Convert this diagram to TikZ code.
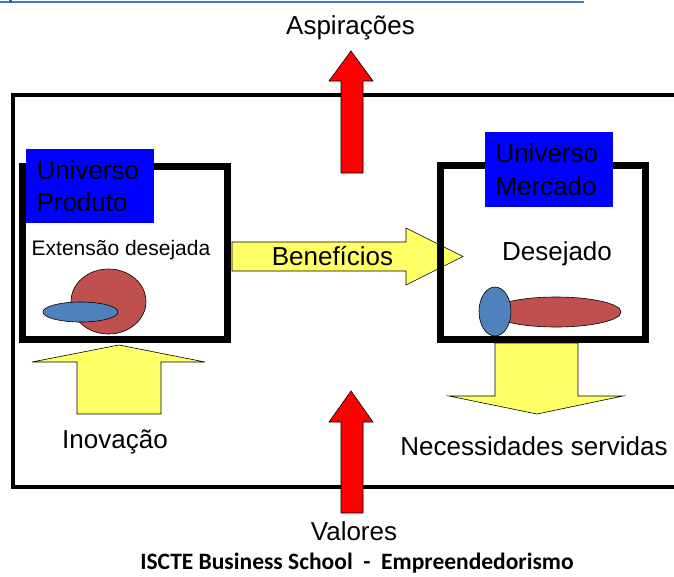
\documentclass[tikz,border=0pt]{standalone}
\usepackage{fontspec}
\setmainfont{Liberation Sans}
\newfontfamily\footfont{Carlito}
\usepackage{tikz}
\usetikzlibrary{positioning}
\usepackage{xcolor}
\definecolor{tagblue}{RGB}{0,0,255}
\definecolor{arrowyellow}{RGB}{255,255,102}
\definecolor{blobred}{RGB}{192,80,77}
\definecolor{blobblue}{RGB}{79,129,189}
\definecolor{rulerblue}{RGB}{60,127,200}
\tikzset{%
	universe box/.style={
		draw,
		line width=7pt,
		outer sep=0pt,
		anchor=north west
	},
	universe tag/.style={
		fill=tagblue,
		anchor=north west,
		align=left,
		text width=107pt,
		inner xsep=10.5pt,
		inner ysep=0pt,
		outer sep=0pt,
		font=\fontsize{26pt}{32.5pt}\selectfont
	},
	block arrow/.style={draw=black, line width=0.6pt, fill=arrowyellow},
	value arrow/.style={draw=black, line width=0.6pt, fill=red},
	caption/.style={font=\fontsize{26pt}{31pt}\selectfont, inner sep=0pt, anchor=base},
}

\begin{document}
\begin{tikzpicture}[x=1pt, y=-1pt]
	\useasboundingbox (0,0) rectangle (674,576);
	\fill[rulerblue] (0,1.3) rectangle (584,2.8);
	\fill[rulerblue!80!black] (9,0) rectangle (12,3);
	
	\draw[line width=4pt] (677,95) -- (13,95) -- (13,487) -- (677,487);
	
	\draw[value arrow] (341,173) -- (341,81) -- (329,81) -- (351,51) -- (373,81) -- (363,81) -- (363,173) -- cycle;
	\draw[value arrow] (341,513) -- (341,422) -- (329,422) -- (351,391) -- (373,422) -- (363,422) -- (363,513) -- cycle;
	
	\draw[block arrow] (232,242) -- (406,242) -- (406,228) -- (463,256.5) -- (406,285) -- (406,271) -- (232,271) -- cycle;
	\draw[block arrow] (77,414) -- (77,362) -- (32,362) -- (119,345) -- (205,362) -- (161,362) -- (161,414) -- cycle;
	\draw[block arrow] (495,343) -- (495,396) -- (449,396) -- (537,414) -- (623,396) -- (578,396) -- (578,343) -- cycle;
	
	\node[universe box, minimum width=205pt, minimum height=173pt] (produto) at (22.5,166.5) {};
	\node[universe box, minimum width=205pt, minimum height=174pt] (mercado) at (440.5,165.5) {};
	\node[universe tag, minimum height=74pt] (produto tag) at (26,149) {Universo\\Produto};
	\node[universe tag, minimum height=75pt] (mercado tag) at (485,132) {Universo\\Mercado};
	
	\draw[fill=blobred, line width=0.6pt] (108.5,301.5) ellipse [x radius=37.5, y radius=32.5];
	\draw[fill=blobblue, line width=0.6pt] (80.5,312) ellipse [x radius=37.5, y radius=10];
	\draw[fill=blobred, line width=0.6pt] (556,312) ellipse [x radius=65, y radius=15];
	\draw[fill=blobblue, line width=0.6pt] (495,311.5) ellipse [x radius=16, y radius=24.5];
	
	\node[caption] (aspiracoes) at (350.5,34) {Aspirações};
	\node[caption] (valores) at (354,540) {Valores};
	\node[caption] (inovacao) at (115,448) {Inovação};
	\node[caption] (necessidades) at (534,455) {Necessidades servidas};
	\node[caption] (beneficios) at (332.5,265) {Benefícios};
	\node[caption] (desejado) at (557,260) {Desejado};
	\node[caption, font=\fontsize{21pt}{25pt}\selectfont] (extensao) at (121,255) {Extensão desejada};
	\node[caption, font=\fontsize{23.5pt}{28pt}\footfont\bfseries] (rodape) at (357,569.5) {ISCTE Business School~~-~~Empreendedorismo};
\end{tikzpicture}
\end{document}
